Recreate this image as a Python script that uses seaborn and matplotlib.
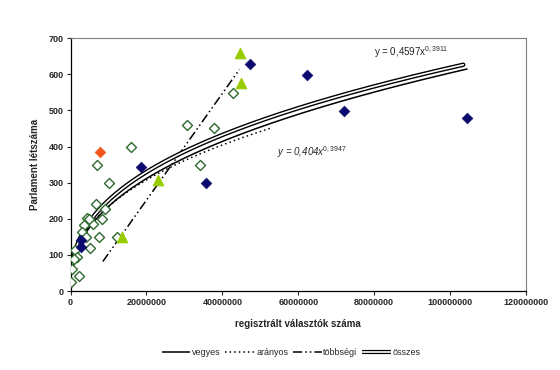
import numpy as np
import pandas as pd
import seaborn as sns
from matplotlib import pyplot as plt
from matplotlib.lines import Line2D
import matplotlib.patheffects as pe

sns.set_style("white")
plt.rcParams['font.family'] = ['Liberation Sans', 'DejaVu Sans']
plt.rcParams['mathtext.fontset'] = 'custom'
plt.rcParams['mathtext.rm'] = 'Liberation Sans'
plt.rcParams['mathtext.it'] = 'Liberation Sans:italic'

# registered voters (millions) and parliament size
vegyes_x = [2.7, 2.7, 18.5, 35.8, 47.3, 62.4, 72.0, 104.5]
vegyes_y = [141, 123, 344, 298, 629, 598, 499, 479]

tobbsegi_x = [13.6, 23.0, 44.7, 44.9]
tobbsegi_y = [149, 307, 658, 575]

aranyos_x = [42.9, 30.6, 37.8, 15.8, 34.1, 7.0, 10.0, 6.7, 8.3, 6.0, 4.4, 4.8,
             3.5, 3.0, 4.2, 7.5, 12.3, 5.1, 1.1, 1.6, 0.9, 2.3, 0.1, 0.3, 9.2]
aranyos_y = [549, 459, 451, 399, 348, 348, 299, 240, 199, 185, 203, 200,
             183, 164, 149, 149, 150, 120, 113, 93, 88, 41, 26, 62, 226]

egyeb_x = [7.8]
egyeb_y = [384]

# power trendlines as printed in the chart: y = a * x^b
osszes_fit = (0.4597, 0.3911)
aranyos_fit = (0.404, 0.3947)

M = 1e6
DOTTED = (0, (1, 2))
DASHDOT2 = (0, (6, 2, 1, 2, 1, 2))

fig, ax = plt.subplots(figsize=(5.6, 3.7), dpi=100)
fig.subplots_adjust(left=0.126, right=0.939, bottom=0.2135, top=0.8965)


def power_curve(fit, x0, x1):
    xs = np.linspace(x0, x1, 200)
    return xs, fit[0] * xs ** fit[1]


# vegyes: power fit on the mixed-system points
vb, va = np.polyfit(np.log(np.array(vegyes_x) * M), np.log(vegyes_y), 1)
vx = np.linspace(min(vegyes_x) * M, max(vegyes_x) * M, 200)
sns.lineplot(x=vx, y=np.exp(va) * vx ** vb, ax=ax, color='black', lw=1.1, sort=False)

# arányos dotted
ax_, ay_ = power_curve(aranyos_fit, 0.1 * M, 52.6 * M)
sns.lineplot(x=ax_, y=ay_, ax=ax, color='black', lw=1.1, linestyle=DOTTED, sort=False)

# többségi linear fit, dash-dot-dot
k, b0 = np.polyfit(np.array(tobbsegi_x) * M, tobbsegi_y, 1)
tx = np.array([8.5, 44.5]) * M
sns.lineplot(x=tx, y=k * tx + b0, ax=ax, color='black', lw=1.1,
             linestyle=DASHDOT2, sort=False)

# összes: double line
ox, oy = power_curve(osszes_fit, 0.2 * M, 103.5 * M)
sns.lineplot(x=ox, y=oy, ax=ax, color='white', lw=1.2, sort=False,
             path_effects=[pe.Stroke(linewidth=3.2, foreground='black'), pe.Normal()])

# points
sns.scatterplot(x=np.array(aranyos_x) * M, y=aranyos_y, ax=ax, marker='D', s=26,
                color='white', edgecolor='#2f6a2f', linewidth=1.0, zorder=3)
sns.scatterplot(x=np.array(vegyes_x) * M, y=vegyes_y, ax=ax, marker='D', s=30,
                color='#0a0a6e', edgecolor='#0a0a6e', zorder=4)
sns.scatterplot(x=np.array(egyeb_x) * M, y=egyeb_y, ax=ax, marker='D', s=30,
                color='#f2561d', edgecolor='#f2561d', zorder=4)
sns.scatterplot(x=np.array(tobbsegi_x) * M, y=tobbsegi_y, ax=ax, marker='^', s=60,
                color='#99cc00', edgecolor='#99cc00', zorder=4)

ax.set_xlim(0, 120 * M)
ax.set_ylim(0, 700)
ax.set_xticks(np.arange(0, 121, 20) * M)
ax.set_xticklabels([str(int(v * M)) for v in range(0, 121, 20)])
ax.set_yticks(range(0, 701, 100))
ax.tick_params(axis='both', labelsize=6.5, length=3, width=0.8, direction='out',
               bottom=True, left=True, pad=2)
for lab in ax.get_xticklabels() + ax.get_yticklabels():
    lab.set_fontweight('bold')

for side in ['top', 'right']:
    ax.spines[side].set_color('#808080')
    ax.spines[side].set_linewidth(0.8)
for side in ['left', 'bottom']:
    ax.spines[side].set_color('black')
    ax.spines[side].set_linewidth(0.9)

ax.set_xlabel('regisztrált választók száma', fontsize=7, fontweight='bold', labelpad=9)
ax.set_ylabel('Parlament létszáma', fontsize=7, fontweight='bold', labelpad=6)

ax.text(80 * M, 650, r'y = 0,4597x$^{\mathrm{0,3911}}$', fontsize=7)
ax.text(54.5 * M, 373, r'y = 0,404x$^{\mathit{0,3947}}$', fontsize=7, style='italic')

# legend: only the trend lines
h_osszes = (Line2D([], [], color='black', lw=3.0, solid_capstyle='butt'),
            Line2D([], [], color='white', lw=1.2, solid_capstyle='butt'))
handles = [
    Line2D([], [], color='black', lw=1.1, solid_capstyle='butt'),
    Line2D([], [], color='black', lw=1.1, linestyle=DOTTED),
    Line2D([], [], color='black', lw=1.1, linestyle=DASHDOT2),
    h_osszes,
]
fig.legend(handles, ['vegyes', 'arányos', 'többségi', 'összes'], loc='center',
           bbox_to_anchor=(0.52, 0.048), ncol=4, frameon=False, fontsize=6.5,
           handlelength=3.2, handletextpad=0.2, columnspacing=0.5)

plt.savefig('out.png', dpi=100)
